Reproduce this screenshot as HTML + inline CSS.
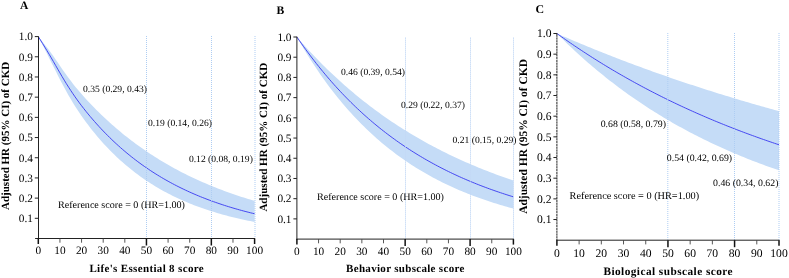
<!DOCTYPE html>
<html><head><meta charset="utf-8"><title>chart</title>
<style>
html,body{margin:0;padding:0;background:#fff;}
body{width:789px;height:278px;overflow:hidden;}
svg{display:block;}
svg{will-change:transform;opacity:0.999;}
svg text{font-family:"Liberation Serif",serif;fill:#000;text-rendering:geometricPrecision;}
</style></head><body>
<svg width="789" height="278" viewBox="0 0 789 278">
<rect width="789" height="278" fill="#fff"/>
<polygon fill="#c5dcf7" points="38.30,36.60 40.46,39.26 42.63,41.92 44.79,44.64 46.95,47.43 49.11,50.32 51.28,53.29 53.44,56.35 55.60,59.47 57.77,62.62 59.93,65.78 62.09,68.92 64.26,72.01 66.42,75.04 68.58,78.00 70.75,80.87 72.91,83.67 75.07,86.38 77.23,89.02 79.40,91.59 81.56,94.09 83.72,96.54 85.89,98.93 88.05,101.28 90.21,103.58 92.38,105.83 94.54,108.05 96.70,110.22 98.86,112.36 101.03,114.46 103.19,116.53 105.35,118.56 107.52,120.56 109.68,122.53 111.84,124.46 114.01,126.36 116.17,128.23 118.33,130.06 120.49,131.87 122.66,133.65 124.82,135.39 126.98,137.11 129.15,138.80 131.31,140.46 133.47,142.09 135.63,143.70 137.80,145.28 139.96,146.83 142.12,148.36 144.29,149.86 146.45,151.34 148.61,152.79 150.78,154.22 152.94,155.62 155.10,157.00 157.27,158.36 159.43,159.70 161.59,161.01 163.75,162.30 165.92,163.57 168.08,164.82 170.24,166.04 172.41,167.25 174.57,168.44 176.73,169.61 178.90,170.75 181.06,171.88 183.22,172.99 185.38,174.08 187.55,175.16 189.71,176.21 191.87,177.25 194.04,178.27 196.20,179.27 198.36,180.26 200.53,181.23 202.69,182.18 204.85,183.12 207.01,184.05 209.18,184.95 211.34,185.84 213.50,186.72 215.67,187.58 217.83,188.43 219.99,189.27 222.16,190.09 224.32,190.89 226.48,191.69 228.64,192.47 230.81,193.23 232.97,193.99 235.13,194.73 237.30,195.46 239.46,196.18 241.62,196.88 243.79,197.57 245.95,198.26 248.11,198.93 250.27,199.59 252.44,200.23 254.60,200.87 254.60,221.93 252.44,221.51 250.27,221.08 248.11,220.64 245.95,220.18 243.79,219.72 241.62,219.24 239.46,218.76 237.30,218.26 235.13,217.75 232.97,217.22 230.81,216.68 228.64,216.13 226.48,215.56 224.32,214.98 222.16,214.39 219.99,213.78 217.83,213.15 215.67,212.51 213.50,211.85 211.34,211.18 209.18,210.48 207.01,209.77 204.85,209.05 202.69,208.30 200.53,207.54 198.36,206.75 196.20,205.95 194.04,205.13 191.87,204.28 189.71,203.42 187.55,202.53 185.38,201.62 183.22,200.68 181.06,199.73 178.90,198.74 176.73,197.74 174.57,196.71 172.41,195.65 170.24,194.56 168.08,193.45 165.92,192.31 163.75,191.14 161.59,189.94 159.43,188.71 157.27,187.45 155.10,186.16 152.94,184.83 150.78,183.48 148.61,182.08 146.45,180.65 144.29,179.19 142.12,177.69 139.96,176.15 137.80,174.57 135.63,172.95 133.47,171.29 131.31,169.59 129.15,167.85 126.98,166.06 124.82,164.23 122.66,162.34 120.49,160.42 118.33,158.44 116.17,156.41 114.01,154.34 111.84,152.20 109.68,150.02 107.52,147.78 105.35,145.48 103.19,143.13 101.03,140.71 98.86,138.24 96.70,135.70 94.54,133.09 92.38,130.42 90.21,127.68 88.05,124.86 85.89,121.97 83.72,119.00 81.56,115.94 79.40,112.78 77.23,109.53 75.07,106.17 72.91,102.70 70.75,99.12 68.58,95.40 66.42,91.57 64.26,87.61 62.09,83.55 59.93,79.38 57.77,75.14 55.60,70.84 53.44,66.51 51.28,62.19 49.11,57.88 46.95,53.60 44.79,49.35 42.63,45.12 40.46,40.88 38.30,36.60"/>
<polyline fill="none" stroke="#3838f0" stroke-width="0.9" points="38.30,36.60 40.46,40.09 42.63,43.57 44.79,47.07 46.95,50.61 49.11,54.23 51.28,57.90 53.44,61.63 55.60,65.39 57.77,69.15 59.93,72.89 62.09,76.57 64.26,80.19 66.42,83.73 68.58,87.16 70.75,90.50 72.91,93.73 75.07,96.86 77.23,99.90 79.40,102.86 81.56,105.73 83.72,108.52 85.89,111.25 88.05,113.91 90.21,116.51 92.38,119.05 94.54,121.54 96.70,123.97 98.86,126.36 101.03,128.69 103.19,130.97 105.35,133.20 107.52,135.39 109.68,137.54 111.84,139.63 114.01,141.69 116.17,143.70 118.33,145.67 120.49,147.60 122.66,149.49 124.82,151.34 126.98,153.15 129.15,154.92 131.31,156.66 133.47,158.36 135.63,160.03 137.80,161.66 139.96,163.25 142.12,164.82 144.29,166.35 146.45,167.85 148.61,169.32 150.78,170.75 152.94,172.16 155.10,173.54 157.27,174.89 159.43,176.21 161.59,177.51 163.75,178.77 165.92,180.01 168.08,181.23 170.24,182.42 172.41,183.59 174.57,184.73 176.73,185.84 178.90,186.94 181.06,188.01 183.22,189.06 185.38,190.09 187.55,191.09 189.71,192.08 191.87,193.04 194.04,193.99 196.20,194.91 198.36,195.82 200.53,196.71 202.69,197.57 204.85,198.42 207.01,199.26 209.18,200.07 211.34,200.87 213.50,201.65 215.67,202.42 217.83,203.17 219.99,203.90 222.16,204.62 224.32,205.33 226.48,206.02 228.64,206.69 230.81,207.35 232.97,208.00 235.13,208.63 237.30,209.25 239.46,209.86 241.62,210.46 243.79,211.04 245.95,211.61 248.11,212.17 250.27,212.72 252.44,213.25 254.60,213.78"/>
<line x1="146.50" x2="146.50" y1="36.00" y2="238.00" stroke="#aecdf3" stroke-width="1" stroke-dasharray="1 1" shape-rendering="crispEdges"/>
<line x1="211.50" x2="211.50" y1="36.00" y2="238.00" stroke="#aecdf3" stroke-width="1" stroke-dasharray="1 1" shape-rendering="crispEdges"/>
<line x1="255.00" x2="255.00" y1="36.00" y2="238.00" stroke="#aecdf3" stroke-width="1" stroke-dasharray="1 1"/>
<line x1="38.50" x2="38.50" y1="36.30" y2="239.00" stroke="#222" stroke-width="1.00"/>
<line x1="35.10" x2="255.10" y1="238.50" y2="238.50" stroke="#222" stroke-width="1.00"/>
<line x1="34.80" x2="38.30" y1="218.31" y2="218.31" stroke="#222" stroke-width="1.00"/>
<text x="32.90" y="222.10" font-size="11.30" text-anchor="end">0.1</text>
<line x1="34.80" x2="38.30" y1="198.12" y2="198.12" stroke="#222" stroke-width="1.00"/>
<text x="32.90" y="201.91" font-size="11.30" text-anchor="end">0.2</text>
<line x1="34.80" x2="38.30" y1="177.93" y2="177.93" stroke="#222" stroke-width="1.00"/>
<text x="32.90" y="181.72" font-size="11.30" text-anchor="end">0.3</text>
<line x1="34.80" x2="38.30" y1="157.74" y2="157.74" stroke="#222" stroke-width="1.00"/>
<text x="32.90" y="161.53" font-size="11.30" text-anchor="end">0.4</text>
<line x1="34.80" x2="38.30" y1="137.55" y2="137.55" stroke="#222" stroke-width="1.00"/>
<text x="32.90" y="141.34" font-size="11.30" text-anchor="end">0.5</text>
<line x1="34.80" x2="38.30" y1="117.36" y2="117.36" stroke="#222" stroke-width="1.00"/>
<text x="32.90" y="121.15" font-size="11.30" text-anchor="end">0.6</text>
<line x1="34.80" x2="38.30" y1="97.17" y2="97.17" stroke="#222" stroke-width="1.00"/>
<text x="32.90" y="100.96" font-size="11.30" text-anchor="end">0.7</text>
<line x1="34.80" x2="38.30" y1="76.98" y2="76.98" stroke="#222" stroke-width="1.00"/>
<text x="32.90" y="80.77" font-size="11.30" text-anchor="end">0.8</text>
<line x1="34.80" x2="38.30" y1="56.79" y2="56.79" stroke="#222" stroke-width="1.00"/>
<text x="32.90" y="60.58" font-size="11.30" text-anchor="end">0.9</text>
<line x1="34.80" x2="38.30" y1="36.60" y2="36.60" stroke="#222" stroke-width="1.00"/>
<text x="32.90" y="40.39" font-size="11.30" text-anchor="end">1.0</text>
<line x1="38.30" x2="38.30" y1="238.50" y2="244.00" stroke="#111" stroke-width="1.5"/>
<text x="38.30" y="254.40" font-size="11.30" text-anchor="middle">0</text>
<line x1="59.93" x2="59.93" y1="238.50" y2="242.70" stroke="#444" stroke-width="0.90"/>
<text x="59.93" y="254.40" font-size="11.30" text-anchor="middle">10</text>
<line x1="81.56" x2="81.56" y1="238.50" y2="242.70" stroke="#444" stroke-width="0.90"/>
<text x="81.56" y="254.40" font-size="11.30" text-anchor="middle">20</text>
<line x1="103.19" x2="103.19" y1="238.50" y2="242.70" stroke="#444" stroke-width="0.90"/>
<text x="103.19" y="254.40" font-size="11.30" text-anchor="middle">30</text>
<line x1="124.82" x2="124.82" y1="238.50" y2="242.70" stroke="#444" stroke-width="0.90"/>
<text x="124.82" y="254.40" font-size="11.30" text-anchor="middle">40</text>
<line x1="146.45" x2="146.45" y1="238.50" y2="245.50" stroke="#111" stroke-width="1.5"/>
<text x="146.45" y="254.40" font-size="11.30" text-anchor="middle">50</text>
<line x1="168.08" x2="168.08" y1="238.50" y2="242.70" stroke="#444" stroke-width="0.90"/>
<text x="168.08" y="254.40" font-size="11.30" text-anchor="middle">60</text>
<line x1="189.71" x2="189.71" y1="238.50" y2="242.70" stroke="#444" stroke-width="0.90"/>
<text x="189.71" y="254.40" font-size="11.30" text-anchor="middle">70</text>
<line x1="211.34" x2="211.34" y1="238.50" y2="245.50" stroke="#111" stroke-width="1.5"/>
<text x="211.34" y="254.40" font-size="11.30" text-anchor="middle">80</text>
<line x1="232.97" x2="232.97" y1="238.50" y2="242.70" stroke="#444" stroke-width="0.90"/>
<text x="232.97" y="254.40" font-size="11.30" text-anchor="middle">90</text>
<line x1="254.60" x2="254.60" y1="238.50" y2="244.00" stroke="#111" stroke-width="1.5"/>
<text x="254.60" y="254.40" font-size="11.30" text-anchor="middle">100</text>
<text x="83.00" y="92.00" font-size="9.60">0.35 (0.29, 0.43)</text>
<text x="148.00" y="126.00" font-size="9.60">0.19 (0.14, 0.26)</text>
<text x="188.90" y="162.40" font-size="9.60">0.12 (0.08, 0.19)</text>
<text x="58.00" y="207.50" font-size="10.08">Reference score = 0 (HR=1.00)</text>
<text x="89.40" y="271.70" font-size="11.00" font-weight="bold" letter-spacing="0.340">Life's Essential 8 score</text>
<text transform="translate(9.00,135.90) rotate(-90)" font-size="11.00" font-weight="bold" text-anchor="middle">Adjusted HR (95% CI) of CKD</text>
<text x="20.00" y="8.60" font-size="11.50" font-weight="bold">A</text>
<polygon fill="#c5dcf7" points="296.90,37.00 299.06,39.49 301.23,41.94 303.39,44.37 305.56,46.76 307.72,49.13 309.89,51.47 312.05,53.78 314.22,56.06 316.38,58.31 318.55,60.53 320.71,62.73 322.88,64.90 325.04,67.04 327.21,69.16 329.38,71.25 331.54,73.32 333.70,75.36 335.87,77.37 338.03,79.36 340.20,81.33 342.37,83.27 344.53,85.18 346.69,87.08 348.86,88.95 351.02,90.80 353.19,92.62 355.35,94.42 357.52,96.20 359.69,97.96 361.85,99.70 364.01,101.41 366.18,103.11 368.34,104.78 370.51,106.43 372.67,108.07 374.84,109.68 377.00,111.27 379.17,112.84 381.33,114.40 383.50,115.93 385.66,117.45 387.83,118.94 390.00,120.42 392.16,121.88 394.32,123.32 396.49,124.75 398.65,126.15 400.82,127.54 402.99,128.92 405.15,130.27 407.31,131.61 409.48,132.93 411.64,134.24 413.81,135.53 415.97,136.80 418.14,138.06 420.30,139.31 422.47,140.53 424.63,141.75 426.80,142.94 428.96,144.13 431.13,145.30 433.29,146.45 435.46,147.59 437.62,148.72 439.79,149.83 441.95,150.93 444.12,152.01 446.28,153.08 448.45,154.14 450.62,155.19 452.78,156.22 454.94,157.24 457.11,158.25 459.27,159.24 461.44,160.22 463.61,161.19 465.77,162.15 467.93,163.10 470.10,164.03 472.26,164.96 474.43,165.87 476.59,166.77 478.76,167.66 480.92,168.54 483.09,169.41 485.25,170.27 487.42,171.11 489.58,171.95 491.75,172.78 493.91,173.59 496.08,174.40 498.25,175.19 500.41,175.98 502.57,176.76 504.74,177.52 506.90,178.28 509.07,179.03 511.24,179.77 513.40,180.50 513.40,208.57 511.24,207.99 509.07,207.39 506.90,206.79 504.74,206.17 502.57,205.54 500.41,204.90 498.25,204.25 496.08,203.58 493.91,202.91 491.75,202.22 489.58,201.51 487.42,200.80 485.25,200.06 483.09,199.32 480.92,198.56 478.76,197.79 476.59,197.00 474.43,196.20 472.26,195.38 470.10,194.54 467.93,193.69 465.77,192.83 463.61,191.94 461.44,191.04 459.27,190.13 457.11,189.19 454.94,188.24 452.78,187.27 450.62,186.28 448.45,185.27 446.28,184.25 444.12,183.20 441.95,182.13 439.79,181.05 437.62,179.94 435.46,178.81 433.29,177.66 431.13,176.49 428.96,175.29 426.80,174.08 424.63,172.83 422.47,171.57 420.30,170.28 418.14,168.97 415.97,167.63 413.81,166.27 411.64,164.88 409.48,163.46 407.31,162.02 405.15,160.55 402.99,159.05 400.82,157.52 398.65,155.97 396.49,154.38 394.32,152.76 392.16,151.12 390.00,149.44 387.83,147.73 385.66,145.98 383.50,144.21 381.33,142.40 379.17,140.55 377.00,138.67 374.84,136.75 372.67,134.80 370.51,132.81 368.34,130.78 366.18,128.72 364.01,126.61 361.85,124.46 359.69,122.28 357.52,120.05 355.35,117.78 353.19,115.46 351.02,113.10 348.86,110.70 346.69,108.25 344.53,105.75 342.37,103.21 340.20,100.61 338.03,97.97 335.87,95.28 333.70,92.54 331.54,89.74 329.38,86.89 327.21,83.99 325.04,81.03 322.88,78.01 320.71,74.94 318.55,71.80 316.38,68.61 314.22,65.36 312.05,62.04 309.89,58.67 307.72,55.22 305.56,51.72 303.39,48.14 301.23,44.50 299.06,40.78 296.90,37.00"/>
<polyline fill="none" stroke="#3838f0" stroke-width="0.9" points="296.90,37.00 299.06,40.14 301.23,43.23 303.39,46.27 305.56,49.26 307.72,52.21 309.89,55.11 312.05,57.97 314.22,60.78 316.38,63.55 318.55,66.28 320.71,68.96 322.88,71.60 325.04,74.20 327.21,76.76 329.38,79.29 331.54,81.77 333.70,84.21 335.87,86.62 338.03,88.98 340.20,91.31 342.37,93.61 344.53,95.87 346.69,98.09 348.86,100.28 351.02,102.44 353.19,104.56 355.35,106.65 357.52,108.71 359.69,110.73 361.85,112.72 364.01,114.69 366.18,116.62 368.34,118.52 370.51,120.39 372.67,122.24 374.84,124.05 377.00,125.84 379.17,127.60 381.33,129.33 383.50,131.03 385.66,132.71 387.83,134.36 390.00,135.99 392.16,137.59 394.32,139.17 396.49,140.72 398.65,142.25 400.82,143.75 402.99,145.23 405.15,146.69 407.31,148.12 409.48,149.54 411.64,150.93 413.81,152.30 415.97,153.64 418.14,154.97 420.30,156.28 422.47,157.56 424.63,158.83 426.80,160.08 428.96,161.30 431.13,162.51 433.29,163.70 435.46,164.87 437.62,166.02 439.79,167.16 441.95,168.27 444.12,169.37 446.28,170.46 448.45,171.52 450.62,172.57 452.78,173.61 454.94,174.62 457.11,175.62 459.27,176.61 461.44,177.58 463.61,178.54 465.77,179.48 467.93,180.40 470.10,181.31 472.26,182.21 474.43,183.09 476.59,183.96 478.76,184.82 480.92,185.66 483.09,186.49 485.25,187.31 487.42,188.11 489.58,188.91 491.75,189.68 493.91,190.45 496.08,191.21 498.25,191.95 500.41,192.68 502.57,193.40 504.74,194.11 506.90,194.81 509.07,195.50 511.24,196.18 513.40,196.84"/>
<line x1="405.50" x2="405.50" y1="37.50" y2="238.60" stroke="#c3d9f5" stroke-width="1" stroke-dasharray="1.3 0.7"/>
<line x1="470.50" x2="470.50" y1="37.50" y2="238.60" stroke="#c3d9f5" stroke-width="1" stroke-dasharray="1.3 0.7"/>
<line x1="513.50" x2="513.50" y1="37.50" y2="238.60" stroke="#c3d9f5" stroke-width="1" stroke-dasharray="1.3 0.7"/>
<line x1="296.90" x2="296.90" y1="36.70" y2="239.60" stroke="#222" stroke-width="1.00"/>
<line x1="296.40" x2="513.90" y1="239.10" y2="239.10" stroke="#222" stroke-width="1.00"/>
<line x1="293.40" x2="296.90" y1="218.89" y2="218.89" stroke="#222" stroke-width="1.00"/>
<text x="291.50" y="222.68" font-size="11.30" text-anchor="end">0.1</text>
<line x1="293.40" x2="296.90" y1="198.68" y2="198.68" stroke="#222" stroke-width="1.00"/>
<text x="291.50" y="202.47" font-size="11.30" text-anchor="end">0.2</text>
<line x1="293.40" x2="296.90" y1="178.47" y2="178.47" stroke="#222" stroke-width="1.00"/>
<text x="291.50" y="182.26" font-size="11.30" text-anchor="end">0.3</text>
<line x1="293.40" x2="296.90" y1="158.26" y2="158.26" stroke="#222" stroke-width="1.00"/>
<text x="291.50" y="162.05" font-size="11.30" text-anchor="end">0.4</text>
<line x1="293.40" x2="296.90" y1="138.05" y2="138.05" stroke="#222" stroke-width="1.00"/>
<text x="291.50" y="141.84" font-size="11.30" text-anchor="end">0.5</text>
<line x1="293.40" x2="296.90" y1="117.84" y2="117.84" stroke="#222" stroke-width="1.00"/>
<text x="291.50" y="121.63" font-size="11.30" text-anchor="end">0.6</text>
<line x1="293.40" x2="296.90" y1="97.63" y2="97.63" stroke="#222" stroke-width="1.00"/>
<text x="291.50" y="101.42" font-size="11.30" text-anchor="end">0.7</text>
<line x1="293.40" x2="296.90" y1="77.42" y2="77.42" stroke="#222" stroke-width="1.00"/>
<text x="291.50" y="81.21" font-size="11.30" text-anchor="end">0.8</text>
<line x1="293.40" x2="296.90" y1="57.21" y2="57.21" stroke="#222" stroke-width="1.00"/>
<text x="291.50" y="61.00" font-size="11.30" text-anchor="end">0.9</text>
<line x1="293.40" x2="296.90" y1="37.00" y2="37.00" stroke="#222" stroke-width="1.00"/>
<text x="291.50" y="40.79" font-size="11.30" text-anchor="end">1.0</text>
<line x1="296.90" x2="296.90" y1="239.10" y2="244.60" stroke="#111" stroke-width="1.5"/>
<text x="296.90" y="255.00" font-size="11.30" text-anchor="middle">0</text>
<line x1="318.55" x2="318.55" y1="239.10" y2="243.30" stroke="#444" stroke-width="0.90"/>
<text x="318.55" y="255.00" font-size="11.30" text-anchor="middle">10</text>
<line x1="340.20" x2="340.20" y1="239.10" y2="243.30" stroke="#444" stroke-width="0.90"/>
<text x="340.20" y="255.00" font-size="11.30" text-anchor="middle">20</text>
<line x1="361.85" x2="361.85" y1="239.10" y2="243.30" stroke="#444" stroke-width="0.90"/>
<text x="361.85" y="255.00" font-size="11.30" text-anchor="middle">30</text>
<line x1="383.50" x2="383.50" y1="239.10" y2="243.30" stroke="#444" stroke-width="0.90"/>
<text x="383.50" y="255.00" font-size="11.30" text-anchor="middle">40</text>
<line x1="405.15" x2="405.15" y1="239.10" y2="246.10" stroke="#111" stroke-width="1.5"/>
<text x="405.15" y="255.00" font-size="11.30" text-anchor="middle">50</text>
<line x1="426.80" x2="426.80" y1="239.10" y2="243.30" stroke="#444" stroke-width="0.90"/>
<text x="426.80" y="255.00" font-size="11.30" text-anchor="middle">60</text>
<line x1="448.45" x2="448.45" y1="239.10" y2="243.30" stroke="#444" stroke-width="0.90"/>
<text x="448.45" y="255.00" font-size="11.30" text-anchor="middle">70</text>
<line x1="470.10" x2="470.10" y1="239.10" y2="246.10" stroke="#111" stroke-width="1.5"/>
<text x="470.10" y="255.00" font-size="11.30" text-anchor="middle">80</text>
<line x1="491.75" x2="491.75" y1="239.10" y2="243.30" stroke="#444" stroke-width="0.90"/>
<text x="491.75" y="255.00" font-size="11.30" text-anchor="middle">90</text>
<line x1="513.40" x2="513.40" y1="239.10" y2="244.60" stroke="#111" stroke-width="1.5"/>
<text x="513.40" y="255.00" font-size="11.30" text-anchor="middle">100</text>
<text x="341.00" y="74.50" font-size="9.60">0.46 (0.39, 0.54)</text>
<text x="401.00" y="107.50" font-size="9.60">0.29 (0.22, 0.37)</text>
<text x="452.50" y="143.20" font-size="9.60">0.21 (0.15, 0.29)</text>
<text x="317.00" y="200.00" font-size="10.08">Reference score = 0 (HR=1.00)</text>
<text x="346.10" y="272.40" font-size="11.00" font-weight="bold" letter-spacing="0.310">Behavior subscale score</text>
<text transform="translate(267.30,137.20) rotate(-90)" font-size="11.06" font-weight="bold" text-anchor="middle">Adjusted HR (95% CI) of CKD</text>
<text x="276.50" y="14.00" font-size="11.60" font-weight="bold">B</text>
<polygon fill="#c5dcf7" points="556.90,33.50 559.12,34.47 561.34,35.44 563.56,36.40 565.78,37.36 568.00,38.31 570.23,39.26 572.45,40.20 574.67,41.14 576.89,42.08 579.11,43.01 581.33,43.94 583.55,44.86 585.77,45.78 587.99,46.69 590.21,47.60 592.44,48.50 594.66,49.41 596.88,50.30 599.10,51.19 601.32,52.08 603.54,52.97 605.76,53.85 607.98,54.72 610.20,55.59 612.42,56.46 614.65,57.32 616.87,58.18 619.09,59.04 621.31,59.89 623.53,60.74 625.75,61.58 627.97,62.42 630.19,63.26 632.41,64.09 634.63,64.91 636.86,65.74 639.08,66.56 641.30,67.37 643.52,68.19 645.74,68.99 647.96,69.80 650.18,70.60 652.40,71.40 654.62,72.19 656.85,72.98 659.07,73.76 661.29,74.55 663.51,75.32 665.73,76.10 667.95,76.87 670.17,77.64 672.39,78.40 674.61,79.16 676.83,79.92 679.05,80.67 681.28,81.42 683.50,82.17 685.72,82.91 687.94,83.65 690.16,84.39 692.38,85.12 694.60,85.85 696.82,86.57 699.04,87.29 701.26,88.01 703.49,88.73 705.71,89.44 707.93,90.15 710.15,90.85 712.37,91.55 714.59,92.25 716.81,92.95 719.03,93.64 721.25,94.33 723.48,95.01 725.70,95.70 727.92,96.37 730.14,97.05 732.36,97.72 734.58,98.39 736.80,99.06 739.02,99.72 741.24,100.38 743.46,101.04 745.68,101.69 747.91,102.34 750.13,102.99 752.35,103.64 754.57,104.28 756.79,104.92 759.01,105.55 761.23,106.19 763.45,106.82 765.67,107.44 767.89,108.07 770.12,108.69 772.34,109.30 774.56,109.92 776.78,110.53 779.00,111.14 779.00,170.36 776.78,169.59 774.56,168.82 772.34,168.04 770.12,167.26 767.89,166.46 765.67,165.66 763.45,164.84 761.23,164.02 759.01,163.19 756.79,162.35 754.57,161.50 752.35,160.64 750.13,159.78 747.91,158.90 745.68,158.01 743.46,157.11 741.24,156.21 739.02,155.29 736.80,154.37 734.58,153.43 732.36,152.48 730.14,151.53 727.92,150.56 725.70,149.58 723.48,148.59 721.25,147.59 719.03,146.58 716.81,145.56 714.59,144.53 712.37,143.49 710.15,142.43 707.93,141.36 705.71,140.29 703.49,139.20 701.26,138.09 699.04,136.98 696.82,135.85 694.60,134.72 692.38,133.56 690.16,132.40 687.94,131.23 685.72,130.04 683.50,128.83 681.28,127.62 679.05,126.39 676.83,125.15 674.61,123.89 672.39,122.63 670.17,121.34 667.95,120.05 665.73,118.74 663.51,117.41 661.29,116.07 659.07,114.72 656.85,113.35 654.62,111.96 652.40,110.57 650.18,109.15 647.96,107.72 645.74,106.28 643.52,104.82 641.30,103.34 639.08,101.85 636.86,100.34 634.63,98.81 632.41,97.27 630.19,95.71 627.97,94.13 625.75,92.54 623.53,90.93 621.31,89.30 619.09,87.65 616.87,85.99 614.65,84.31 612.42,82.61 610.20,80.89 607.98,79.15 605.76,77.39 603.54,75.62 601.32,73.82 599.10,72.01 596.88,70.17 594.66,68.32 592.44,66.44 590.21,64.55 587.99,62.63 585.77,60.69 583.55,58.73 581.33,56.75 579.11,54.75 576.89,52.73 574.67,50.68 572.45,48.62 570.23,46.53 568.00,44.41 565.78,42.28 563.56,40.12 561.34,37.94 559.12,35.73 556.90,33.50"/>
<polyline fill="none" stroke="#3838f0" stroke-width="0.9" points="556.90,33.50 559.12,35.09 561.34,36.67 563.56,38.24 565.78,39.79 568.00,41.34 570.23,42.87 572.45,44.39 574.67,45.90 576.89,47.39 579.11,48.88 581.33,50.35 583.55,51.81 585.77,53.26 587.99,54.70 590.21,56.13 592.44,57.55 594.66,58.95 596.88,60.35 599.10,61.73 601.32,63.11 603.54,64.47 605.76,65.82 607.98,67.17 610.20,68.50 612.42,69.82 614.65,71.13 616.87,72.44 619.09,73.73 621.31,75.01 623.53,76.28 625.75,77.54 627.97,78.80 630.19,80.04 632.41,81.27 634.63,82.50 636.86,83.71 639.08,84.92 641.30,86.11 643.52,87.30 645.74,88.48 647.96,89.64 650.18,90.80 652.40,91.95 654.62,93.09 656.85,94.23 659.07,95.35 661.29,96.47 663.51,97.57 665.73,98.67 667.95,99.76 670.17,100.84 672.39,101.92 674.61,102.98 676.83,104.04 679.05,105.09 681.28,106.13 683.50,107.16 685.72,108.18 687.94,109.20 690.16,110.21 692.38,111.21 694.60,112.20 696.82,113.19 699.04,114.17 701.26,115.14 703.49,116.10 705.71,117.06 707.93,118.00 710.15,118.94 712.37,119.88 714.59,120.80 716.81,121.72 719.03,122.64 721.25,123.54 723.48,124.44 725.70,125.33 727.92,126.22 730.14,127.09 732.36,127.96 734.58,128.83 736.80,129.69 739.02,130.54 741.24,131.38 743.46,132.22 745.68,133.05 747.91,133.88 750.13,134.69 752.35,135.51 754.57,136.31 756.79,137.11 759.01,137.91 761.23,138.69 763.45,139.48 765.67,140.25 767.89,141.02 770.12,141.79 772.34,142.54 774.56,143.30 776.78,144.04 779.00,144.78"/>
<line x1="667.80" x2="667.80" y1="33.00" y2="239.70" stroke="#aecdf3" stroke-width="1" stroke-dasharray="1 1"/>
<line x1="734.50" x2="734.50" y1="33.00" y2="239.70" stroke="#aecdf3" stroke-width="1" stroke-dasharray="1 1" shape-rendering="crispEdges"/>
<line x1="779.00" x2="779.00" y1="33.00" y2="239.70" stroke="#aecdf3" stroke-width="1" stroke-dasharray="1 1"/>
<line x1="556.90" x2="556.90" y1="33.20" y2="240.70" stroke="#222" stroke-width="1.00"/>
<line x1="556.40" x2="779.50" y1="240.20" y2="240.20" stroke="#222" stroke-width="1.00"/>
<line x1="556.90" x2="556.90" y1="36.70" y2="239.20" stroke="#fff" stroke-opacity="0.8" stroke-width="1.6" stroke-dasharray="0.8 2.0"/>
<line x1="553.40" x2="556.90" y1="219.53" y2="219.53" stroke="#222" stroke-width="1.00"/>
<text x="551.50" y="223.42" font-size="11.60" text-anchor="end">0.1</text>
<line x1="553.40" x2="556.90" y1="198.86" y2="198.86" stroke="#222" stroke-width="1.00"/>
<text x="551.50" y="202.75" font-size="11.60" text-anchor="end">0.2</text>
<line x1="553.40" x2="556.90" y1="178.19" y2="178.19" stroke="#222" stroke-width="1.00"/>
<text x="551.50" y="182.08" font-size="11.60" text-anchor="end">0.3</text>
<line x1="553.40" x2="556.90" y1="157.52" y2="157.52" stroke="#222" stroke-width="1.00"/>
<text x="551.50" y="161.41" font-size="11.60" text-anchor="end">0.4</text>
<line x1="553.40" x2="556.90" y1="136.85" y2="136.85" stroke="#222" stroke-width="1.00"/>
<text x="551.50" y="140.74" font-size="11.60" text-anchor="end">0.5</text>
<line x1="553.40" x2="556.90" y1="116.18" y2="116.18" stroke="#222" stroke-width="1.00"/>
<text x="551.50" y="120.07" font-size="11.60" text-anchor="end">0.6</text>
<line x1="553.40" x2="556.90" y1="95.51" y2="95.51" stroke="#222" stroke-width="1.00"/>
<text x="551.50" y="99.40" font-size="11.60" text-anchor="end">0.7</text>
<line x1="553.40" x2="556.90" y1="74.84" y2="74.84" stroke="#222" stroke-width="1.00"/>
<text x="551.50" y="78.73" font-size="11.60" text-anchor="end">0.8</text>
<line x1="553.40" x2="556.90" y1="54.17" y2="54.17" stroke="#222" stroke-width="1.00"/>
<text x="551.50" y="58.06" font-size="11.60" text-anchor="end">0.9</text>
<line x1="553.40" x2="556.90" y1="33.50" y2="33.50" stroke="#222" stroke-width="1.00"/>
<text x="551.50" y="37.39" font-size="11.60" text-anchor="end">1.0</text>
<line x1="556.90" x2="556.90" y1="240.20" y2="245.70" stroke="#111" stroke-width="1.5"/>
<text x="556.90" y="256.50" font-size="11.60" text-anchor="middle">0</text>
<line x1="579.11" x2="579.11" y1="240.20" y2="244.40" stroke="#444" stroke-width="0.90"/>
<text x="579.11" y="256.50" font-size="11.60" text-anchor="middle">10</text>
<line x1="601.32" x2="601.32" y1="240.20" y2="244.40" stroke="#444" stroke-width="0.90"/>
<text x="601.32" y="256.50" font-size="11.60" text-anchor="middle">20</text>
<line x1="623.53" x2="623.53" y1="240.20" y2="244.40" stroke="#444" stroke-width="0.90"/>
<text x="623.53" y="256.50" font-size="11.60" text-anchor="middle">30</text>
<line x1="645.74" x2="645.74" y1="240.20" y2="244.40" stroke="#444" stroke-width="0.90"/>
<text x="645.74" y="256.50" font-size="11.60" text-anchor="middle">40</text>
<line x1="667.95" x2="667.95" y1="240.20" y2="247.20" stroke="#111" stroke-width="1.5"/>
<text x="667.95" y="256.50" font-size="11.60" text-anchor="middle">50</text>
<line x1="690.16" x2="690.16" y1="240.20" y2="244.40" stroke="#444" stroke-width="0.90"/>
<text x="690.16" y="256.50" font-size="11.60" text-anchor="middle">60</text>
<line x1="712.37" x2="712.37" y1="240.20" y2="244.40" stroke="#444" stroke-width="0.90"/>
<text x="712.37" y="256.50" font-size="11.60" text-anchor="middle">70</text>
<line x1="734.58" x2="734.58" y1="240.20" y2="247.20" stroke="#111" stroke-width="1.5"/>
<text x="734.58" y="256.50" font-size="11.60" text-anchor="middle">80</text>
<line x1="756.79" x2="756.79" y1="240.20" y2="244.40" stroke="#444" stroke-width="0.90"/>
<text x="756.79" y="256.50" font-size="11.60" text-anchor="middle">90</text>
<line x1="779.00" x2="779.00" y1="240.20" y2="245.70" stroke="#111" stroke-width="1.5"/>
<text x="779.00" y="256.50" font-size="11.60" text-anchor="middle">100</text>
<text x="600.70" y="126.50" font-size="9.80">0.68 (0.58, 0.79)</text>
<text x="666.80" y="161.20" font-size="9.80">0.54 (0.42, 0.69)</text>
<text x="713.10" y="186.20" font-size="9.80">0.46 (0.34, 0.62)</text>
<text x="569.60" y="199.10" font-size="10.29">Reference score = 0 (HR=1.00)</text>
<text x="603.40" y="274.70" font-size="11.30" font-weight="bold" letter-spacing="0.450">Biological subscale score</text>
<text transform="translate(526.90,136.40) rotate(-90)" font-size="11.50" font-weight="bold" text-anchor="middle">Adjusted HR (95% CI) of CKD</text>
<text x="535.50" y="13.20" font-size="11.90" font-weight="bold">C</text>
</svg>
</body></html>
